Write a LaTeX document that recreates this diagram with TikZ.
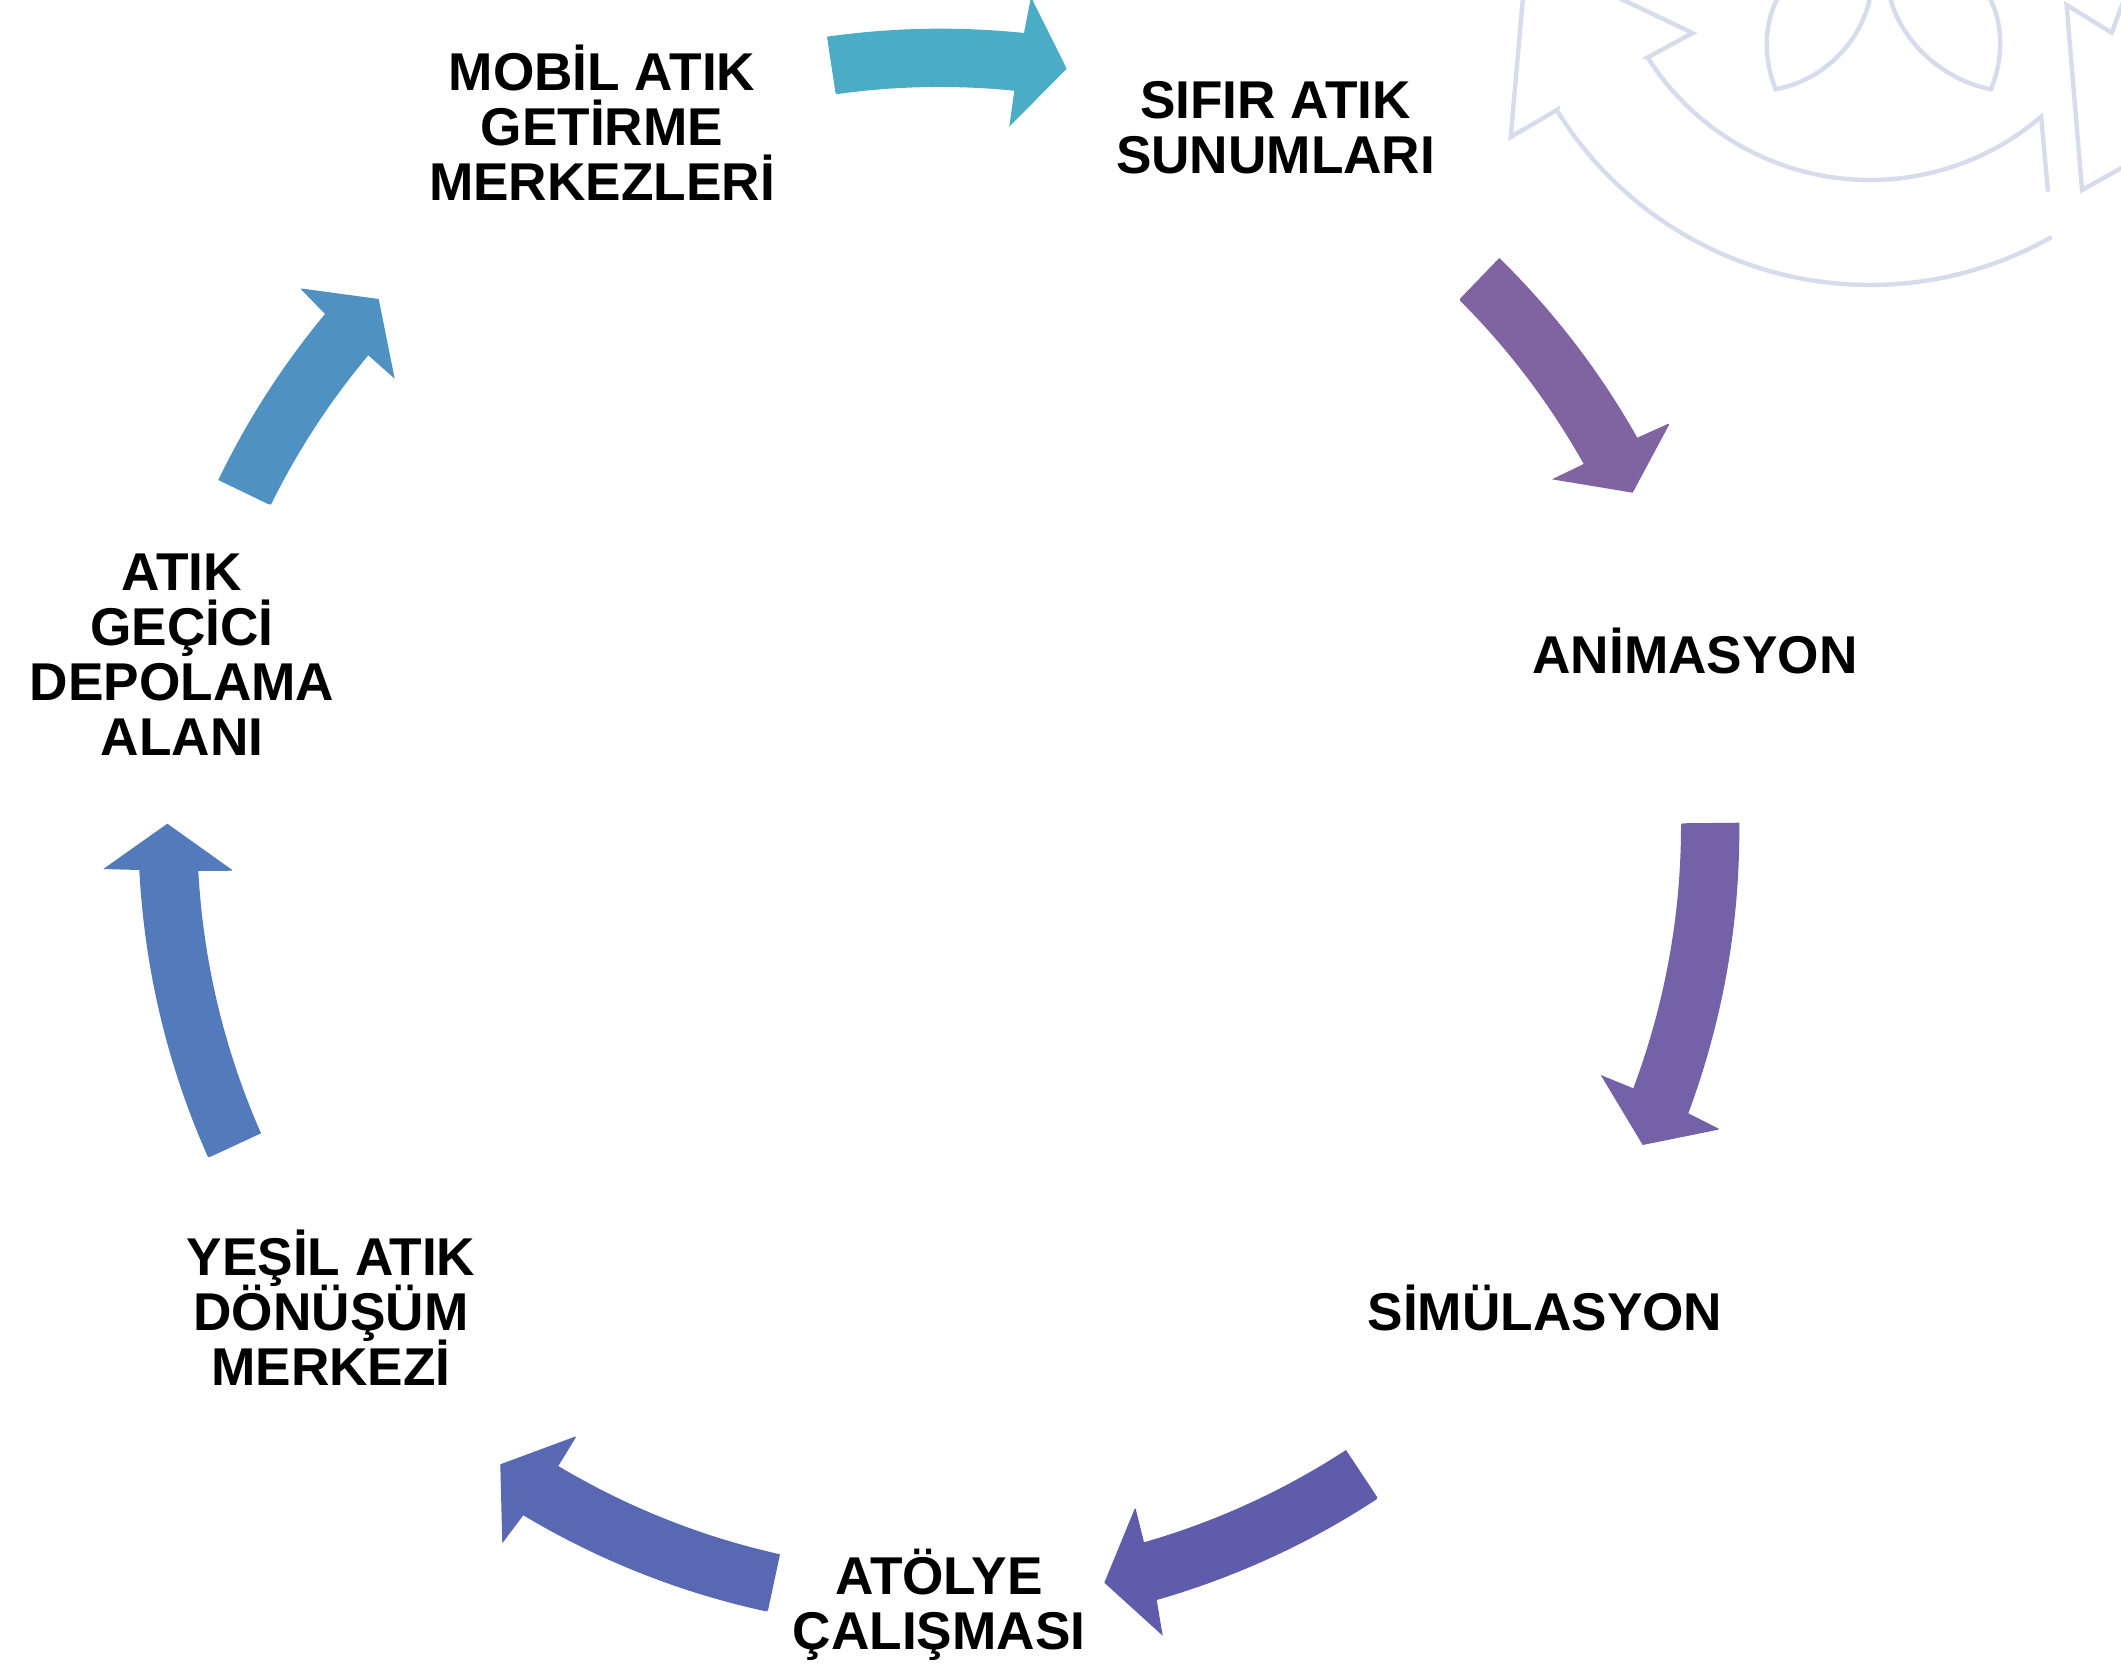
\documentclass[tikz,border=0pt]{standalone}
\usepackage{fontspec}
\setmainfont{Liberation Sans}
\usetikzlibrary{calc}
\definecolor{ar1}{RGB}{75,172,198}
\definecolor{ar2}{RGB}{128,100,162}
\definecolor{ar3}{RGB}{115,98,168}
\definecolor{ar4}{RGB}{95,92,172}
\definecolor{ar5}{RGB}{88,104,178}
\definecolor{ar6}{RGB}{83,123,187}
\definecolor{ar7}{RGB}{79,146,194}
\definecolor{ghost}{RGB}{214,220,236}
\newcommand{\qc}[3]{.. controls ($#1!0.667!#2$) and ($#3!0.667!#2$) .. #3}
\tikzset{
  lbl/.style={font=\fontsize{26.6}{27.5}\selectfont\bfseries,align=center,inner sep=0pt,text=black,execute at begin node={\lineskiplimit=-100pt\relax}},
  ghostline/.style={draw=ghost,line width=2.2pt,miter limit=10},
  nb/.style={rounded corners=1pt},
}
\begin{document}
\begin{tikzpicture}[x=0.5pt,y=-0.5pt]
\clip (0,0) rectangle (2121,1665);
\fill[white] (0,0) rectangle (2121,1665);
% faded recycling emblem
\draw[ghostline] (1617,-3) -- (1692.6,33) -- (1647.6,57.5)
  -- plot[domain=147.7:49.4,samples=60,smooth] ({1870+263*cos(\x)},{-83+263*sin(\x)})
  -- (2048,191.7);
\draw[ghostline] (1523,-3) -- (1510.7,137) -- (1557,110)
  -- plot[domain=148.3:60.4,samples=60,smooth] ({1870+368*cos(\x)},{-83+368*sin(\x)});
\draw[ghostline] (1778.4,-3) .. controls (1765,20) and (1762,55) .. (1775.6,89.3)
  .. controls (1825,80) and (1862,40) .. (1870,-3);
\draw[ghostline] (1989,-3) .. controls (2002,20) and (2005,55) .. (1991,89.3)
  .. controls (1942,80) and (1900,40) .. (1890,-3);
\draw[ghostline] (2125,-3) -- (2111.6,32.7) -- (2066.6,5) -- (2082,190) -- (2125,166);
% arrows
\fill[ar1] (827,36.7) \qc{(827,36.7)}{(925.3,22.8)}{(1024,33)} [nb] -- (1031,-3) [sharp corners] -- (1066.7,68.7) -- (1009.3,126.7) -- (1014.3,90.7) [nb] \qc{(1014.3,90.7)}{(924.8,81.8)}{(835.7,94.3)} [sharp corners] -- cycle;
\fill[ar2] (1499.3,258) \qc{(1499.3,258)}{(1581,338.1)}{(1637.3,437.7)} [nb] -- (1670,423) [sharp corners] -- (1632.7,492.7) -- (1552,479.3) -- (1583.7,464) [nb] \qc{(1583.7,464)}{(1532.7,373.2)}{(1459,299.7)} [sharp corners] -- cycle;
\fill[ar3] (1739.3,822.7) \qc{(1739.3,822.7)}{(1740.5,972.7)}{(1688.3,1113.3)} [nb] -- (1720,1129.3) [sharp corners] -- (1642.7,1145) -- (1600.7,1075) -- (1633.3,1088.3) [nb] \qc{(1633.3,1088.3)}{(1681.1,960.1)}{(1681,823.3)} [sharp corners] -- cycle;
\fill[ar4] (1346,1450) \qc{(1346,1450)}{(1251.9,1511.2)}{(1144,1542.3)} [nb] -- (1135.3,1507.3) [sharp corners] -- (1104.3,1582.7) -- (1162.7,1635.7) -- (1156.7,1600) [nb] \qc{(1156.7,1600)}{(1275.1,1565.9)}{(1378,1498.3)} [sharp corners] -- cycle;
\fill[ar5] (780,1554.3) \qc{(780,1554.3)}{(662.1,1527.9)}{(558.3,1466)} [nb] -- (576.7,1436) [sharp corners] -- (500.3,1464.3) -- (502.3,1543.3) -- (523.3,1515.3) [nb] \qc{(523.3,1515.3)}{(637.6,1583.5)}{(767.7,1611.7)} [sharp corners] -- cycle;
\fill[ar6] (261,1133.3) \qc{(261,1133.3)}{(205.9,1007.8)}{(198.3,871)} [nb] -- (233.3,870.7) [sharp corners] -- (167.3,823.7) -- (103.3,869) -- (139.3,870) [nb] \qc{(139.3,870)}{(147.3,1020.2)}{(208.3,1157.7)} [sharp corners] -- cycle;
\fill[ar7] (218.3,480) \qc{(218.3,480)}{(261.5,390.5)}{(325,314)} [nb] -- (300,288.3) [sharp corners] -- (378.7,299) -- (394.7,378.7) -- (368.3,355.3) [nb] \qc{(368.3,355.3)}{(310.5,424.4)}{(270.7,505.3)} [sharp corners] -- cycle;
% labels
\node[lbl] (mobil) at (602,123) {MOBİL ATIK\\GETİRME\\MERKEZLERİ};
\node[lbl] (sifir) at (1275.6,128) {SIFIR ATIK\\SUNUMLARI};
\node[lbl] (anim) at (1695,651) {ANİMASYON};
\node[lbl] (simu) at (1545,1308) {SİMÜLASYON};
\node[lbl] (atolye) at (939,1605) {ATÖLYE\\ÇALIŞMASI};
\node[lbl] (yesil) at (331,1308) {YEŞİL ATIK\\DÖNÜŞÜM\\MERKEZİ};
\node[lbl] (gecici) at (182,655) {ATIK\\GEÇİCİ\\DEPOLAMA\\ALANI};
\end{tikzpicture}
\end{document}
